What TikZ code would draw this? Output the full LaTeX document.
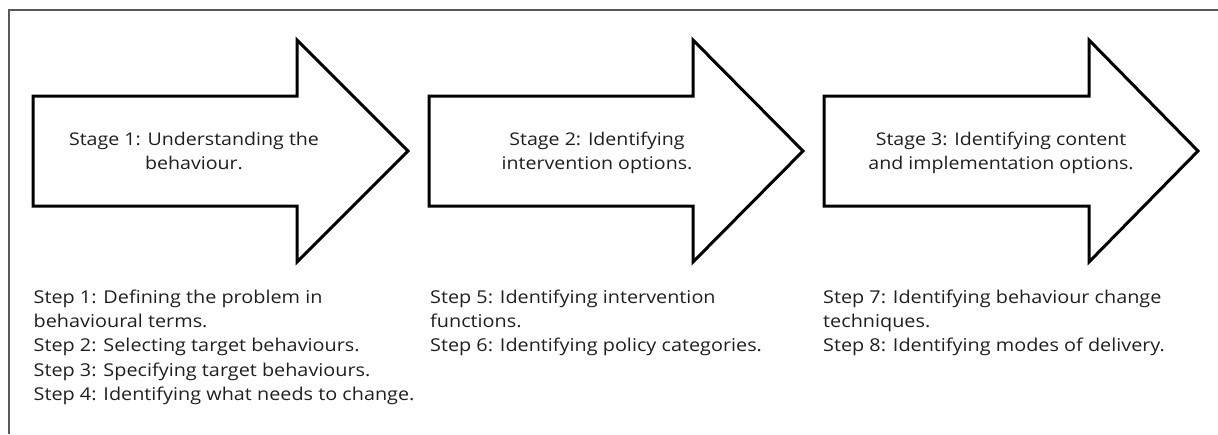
\documentclass[tikz,border=0pt]{standalone}
\usepackage{fontspec}
\setmainfont[FakeStretch=1.12]{Open Sans}
\begin{document}
\begin{tikzpicture}[x=1pt,y=-1pt,
  stagearrow/.style={draw=black,line width=3pt,line join=miter,fill=white},
  stagetext/.style={align=center,font=\fontsize{17.5}{24.3}\selectfont,inner sep=0pt,anchor=base,text=black!88},
  steptext/.style={align=left,font=\fontsize{17.7}{24.4}\selectfont,inner sep=0pt,anchor=base west,text=black!88}]
\useasboundingbox (0,0) rectangle (1218,434);
\draw[black!65,line width=1.5pt] (9,434) -- (9,10) -- (1218,10);
% arrows
\draw[stagearrow] (33,96) -- (297,96) -- (297,40) -- (408,151) -- (297,262) -- (297,206) -- (33,206) -- cycle;
\draw[stagearrow] (429,96) -- (693,96) -- (693,40) -- (803,151) -- (693,262) -- (693,206) -- (429,206) -- cycle;
\draw[stagearrow] (824,96) -- (1089,96) -- (1089,40) -- (1198,151) -- (1089,262) -- (1089,206) -- (824,206) -- cycle;
% stage texts (anchor = baseline of the last line)
\node[stagetext] (s1) at (194,169.3) {Stage 1: Understanding the\\behaviour.};
\node[stagetext] (s2) at (597,169.3) {Stage 2: Identifying\\intervention options.};
\node[stagetext] (s3) at (1001,169.3) {Stage 3: Identifying content\\and implementation options.};
% step texts (anchor = baseline of the last line)
\node[steptext] (t1) at (33.5,400.7) {Step 1: Defining the problem in\\behavioural terms.\\Step 2: Selecting target behaviours.\\Step 3: Specifying target behaviours.\\Step 4: Identifying what needs to change.};
\node[steptext] (t2) at (430,351.8) {Step 5: Identifying intervention\\functions.\\Step 6: Identifying policy categories.};
\node[steptext] (t3) at (823,351.8) {Step 7: Identifying behaviour change\\techniques.\\Step 8: Identifying modes of delivery.};
\end{tikzpicture}
\end{document}
